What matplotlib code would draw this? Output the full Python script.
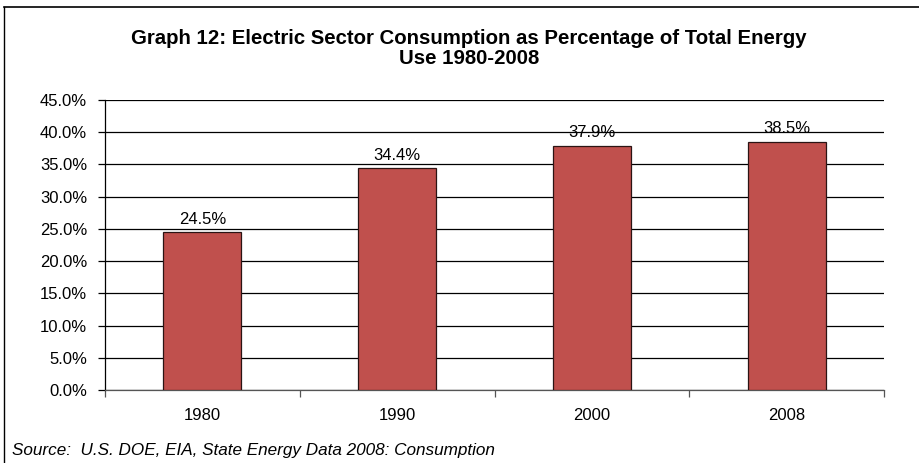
import matplotlib.pyplot as plt
from matplotlib.lines import Line2D
from matplotlib.ticker import FixedLocator

plt.rcParams['font.family'] = ['Liberation Sans', 'DejaVu Sans']

years = ['1980', '1990', '2000', '2008']
share = [24.5, 34.4, 37.9, 38.5]  # prosent av total energibruk
y_ticks = [0, 5, 10, 15, 20, 25, 30, 35, 40, 45]

fig = plt.figure(figsize=(9.19, 4.63), dpi=100)
ax = fig.add_axes([0.1143, 0.1577, 0.8477, 0.6263])

x = range(len(years))
bars = ax.bar(x, share, width=0.4, color='#C0504D', edgecolor='#2b1414', linewidth=0.9, zorder=3)

# tall over stolpene
for b, v in zip(bars, share):
    ax.annotate(f'{v:.1f}%', (b.get_x() + b.get_width() / 2, v), xytext=(0, 4),
                textcoords='offset points', ha='center', va='bottom', fontsize=12)

ax.set_xlim(-0.5, len(years) - 0.5)
ax.set_ylim(0, 45)
ax.set_yticks(y_ticks)
ax.set_yticklabels([f'{t:.1f}%' for t in y_ticks], fontsize=12)
ax.set_xticks(list(x))
ax.set_xticklabels(years, fontsize=12)
ax.tick_params(axis='x', length=0, pad=13)
ax.tick_params(axis='y', length=5, width=0.9, direction='out', pad=8)
ax.xaxis.set_minor_locator(FixedLocator([i - 0.5 for i in range(len(years) + 1)]))
ax.tick_params(axis='x', which='minor', length=5, width=0.9, direction='out', color='#555555')

ax.grid(axis='y', color='black', linewidth=0.9, zorder=0)
ax.set_axisbelow(True)
for s in ['top', 'right']:
    ax.spines[s].set_visible(False)
ax.spines['left'].set_linewidth(0.9)
ax.spines['bottom'].set_color('#555555')
ax.spines['bottom'].set_linewidth(0.9)

# tittel i to linjer
fig.text(0.510, 0.905, 'Graph 12: Electric Sector Consumption as Percentage of Total Energy',
         ha='center', va='baseline', fontsize=14.7, fontweight='bold')
fig.text(0.510, 0.862, 'Use 1980-2008',
         ha='center', va='baseline', fontsize=14.7, fontweight='bold')
fig.text(0.013, 0.026, 'Source:  U.S. DOE, EIA, State Energy Data 2008: Consumption',
         ha='left', va='center', fontsize=12.3, style='italic')

# ramme rundt figuren (topp og venstre)
fig.add_artist(Line2D([0.0045, 1.0], [0.985, 0.985], color='black', linewidth=1.2, transform=fig.transFigure))
fig.add_artist(Line2D([0.0045, 0.0045], [0.0, 0.985], color='black', linewidth=1.0, transform=fig.transFigure))

fig.savefig('out.png', dpi=100)
